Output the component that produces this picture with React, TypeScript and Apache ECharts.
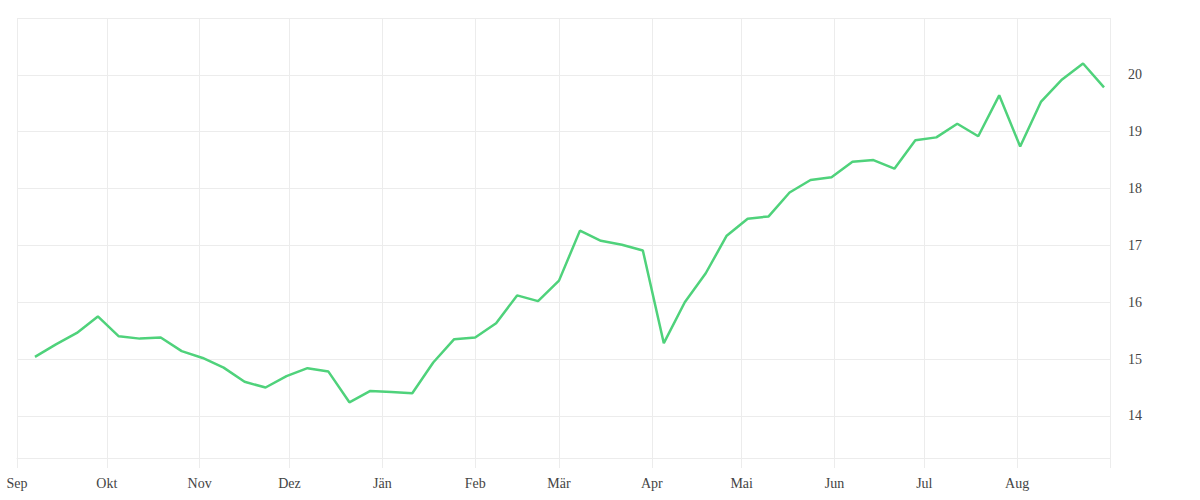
import { useEffect, useRef } from 'react';
import * as echarts from 'echarts';

// weekly readings, Sep 2022 – Aug 2023
const weeks = [
  '2022-09-07', '2022-09-14', '2022-09-21', '2022-09-28',
  '2022-10-05', '2022-10-12', '2022-10-19', '2022-10-26',
  '2022-11-02', '2022-11-09', '2022-11-16', '2022-11-23', '2022-11-30',
  '2022-12-07', '2022-12-14', '2022-12-21', '2022-12-28',
  '2023-01-04', '2023-01-11', '2023-01-18', '2023-01-25',
  '2023-02-01', '2023-02-08', '2023-02-15', '2023-02-22',
  '2023-03-01', '2023-03-08', '2023-03-15', '2023-03-22', '2023-03-29',
  '2023-04-05', '2023-04-12', '2023-04-19', '2023-04-26',
  '2023-05-03', '2023-05-10', '2023-05-17', '2023-05-24', '2023-05-31',
  '2023-06-07', '2023-06-14', '2023-06-21', '2023-06-28',
  '2023-07-05', '2023-07-12', '2023-07-19', '2023-07-26',
  '2023-08-02', '2023-08-09', '2023-08-16', '2023-08-23', '2023-08-30',
];

const values = [
  15.04, 15.26, 15.46, 15.75,
  15.4, 15.36, 15.38, 15.14,
  15.02, 14.85, 14.6, 14.5, 14.7,
  14.84, 14.78, 14.24, 14.44,
  14.42, 14.4, 14.94, 15.35,
  15.38, 15.63, 16.12, 16.02,
  16.38, 17.26, 17.08, 17.01, 16.91,
  15.28, 16.0, 16.51, 17.17,
  17.47, 17.51, 17.93, 18.15, 18.2,
  18.47, 18.5, 18.35, 18.85,
  18.9, 19.14, 18.92, 19.64,
  18.74, 19.53, 19.92, 20.2, 19.78,
];

const monthLabels = ['Jän', 'Feb', 'Mär', 'Apr', 'Mai', 'Jun', 'Jul', 'Aug', 'Sep', 'Okt', 'Nov', 'Dez'];

const X_MIN = '2022-09-01';
const X_MAX = '2023-09-01';

const GRID = '#ececec';
const FONT = "'Liberation Serif', serif";

export default function App() {
  const ref = useRef<HTMLDivElement>(null);

  useEffect(() => {
    const dom = ref.current;
    if (!dom) return;
    const chart = echarts.init(dom, undefined, { renderer: 'svg' });
    const endTime = new Date(2023, 8, 1).getTime();

    chart.setOption({
      animation: false,
      grid: { left: 17, right: 90, top: 18, bottom: 42 },
      xAxis: {
        type: 'time',
        min: X_MIN,
        max: X_MAX,
        splitNumber: 12,
        axisLine: { lineStyle: { color: GRID } },
        axisTick: { show: true, length: 10, lineStyle: { color: GRID } },
        splitLine: { show: true, lineStyle: { color: GRID } },
        axisLabel: {
          margin: 18,
          color: '#444',
          fontFamily: FONT,
          fontSize: 14,
          fontWeight: 'normal',
          formatter: (v: number) => (v >= endTime ? '' : monthLabels[new Date(v).getMonth()]),
        },
      },
      yAxis: {
        type: 'value',
        position: 'right',
        min: 13.26,
        max: 21,
        minInterval: 1,
        maxInterval: 1,
        splitNumber: 8,
        axisLine: { show: false },
        axisTick: { show: false },
        splitLine: { lineStyle: { color: GRID } },
        axisLabel: {
          margin: 18,
          color: '#444',
          fontFamily: FONT,
          fontSize: 14,
          formatter: (v: number) => (Number.isInteger(v) && v < 21 ? String(v) : ''),
        },
      },
      series: [
        {
          type: 'line',
          data: weeks.map((d, i) => [d, values[i]]),
          showSymbol: false,
          lineStyle: { color: '#4fd27b', width: 2.5 },
          itemStyle: { color: '#4fd27b' },
        },
      ],
    } as echarts.EChartsOption);

    return () => chart.dispose();
  }, []);

  return <div ref={ref} style={{ position: 'fixed', left: 0, top: 0, width: 1200, height: 500, background: '#fff' }} />;
}
